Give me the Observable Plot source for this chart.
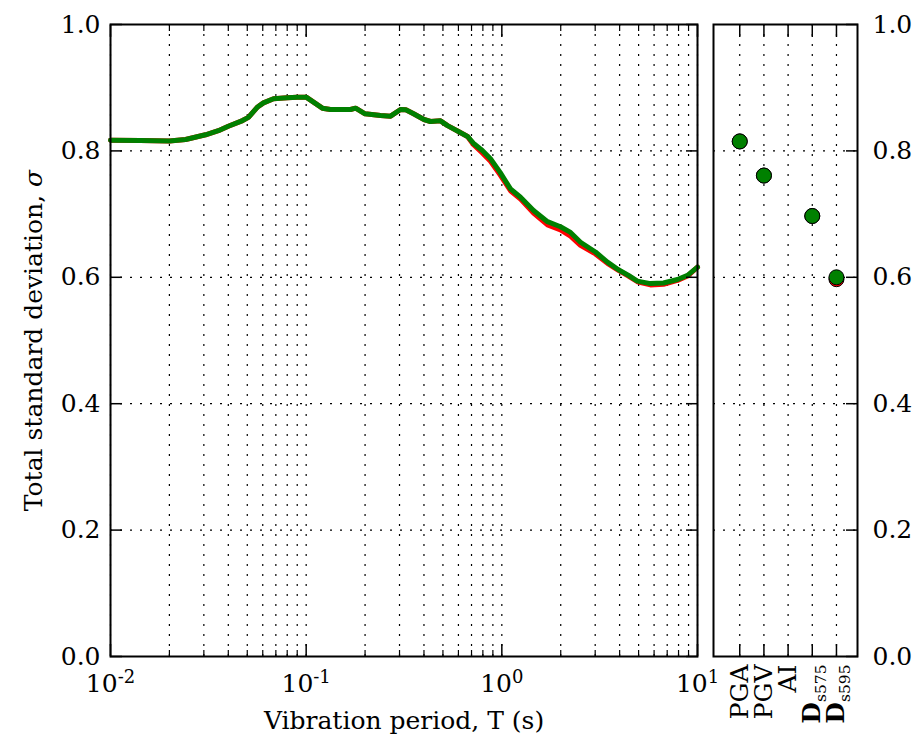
<!DOCTYPE html>
<html><head><meta charset="utf-8">
<script src="https://cdn.jsdelivr.net/npm/d3@7"></script>
<script src="https://cdn.jsdelivr.net/npm/@observablehq/plot@0.6"></script>
<style>
body{margin:0;background:#fff;}
#wrap{position:relative;width:920px;height:734px;font-family:"DejaVu Serif",serif;background:#fff;}
#left,#right{position:absolute;top:0;}
#left{left:0;}
#right{left:700px;}
</style></head><body><div id="wrap"><div id="left"></div><div id="right"></div></div>
<script>
// ---- data ----
const periods = [0.01, 0.0142, 0.02, 0.0242, 0.0306, 0.0356, 0.04, 0.0473, 0.0507, 0.0562,
  0.0605, 0.0681, 0.08, 0.09, 0.1, 0.121, 0.133, 0.1685, 0.179, 0.2,
  0.24, 0.27, 0.3036, 0.323, 0.354, 0.4, 0.432, 0.486, 0.528, 0.6,
  0.668, 0.715, 0.795, 0.875, 0.98, 1.107, 1.246, 1.452, 1.712, 1.994,
  2.244, 2.524, 3.01, 3.467, 3.945, 4.44, 4.93, 5.75, 6.7, 7.9,
  8.89, 10];
const sigmaGreen = [0.817, 0.8165, 0.8157, 0.818, 0.8255, 0.832, 0.839, 0.848, 0.853, 0.869,
  0.876, 0.8825, 0.884, 0.885, 0.885, 0.8676, 0.8655, 0.8655, 0.8676, 0.8587,
  0.856, 0.855, 0.8655, 0.865, 0.8587, 0.8497, 0.8465, 0.8476, 0.840, 0.8307,
  0.8228, 0.8122, 0.8006, 0.7875, 0.766, 0.740, 0.7267, 0.7057, 0.688, 0.680,
  0.671, 0.6555, 0.640, 0.624, 0.612, 0.603, 0.594, 0.590, 0.591, 0.5965,
  0.603, 0.616];
const sigmaRed = [0.817, 0.8165, 0.8157, 0.818, 0.8255, 0.832, 0.839, 0.848, 0.853, 0.869,
  0.876, 0.8825, 0.884, 0.885, 0.885, 0.8676, 0.8655, 0.8655, 0.8676, 0.8587,
  0.856, 0.855, 0.8655, 0.865, 0.8587, 0.8497, 0.8465, 0.8476, 0.840, 0.8307,
  0.8228, 0.8102, 0.7966, 0.7835, 0.762, 0.737, 0.7237, 0.7017, 0.683, 0.675,
  0.665, 0.6505, 0.637, 0.622, 0.611, 0.602, 0.593, 0.588, 0.589, 0.595,
  0.602, 0.616];
const imNames = ["PGA", "PGV", "AI", "D_s575", "D_s595"];
const imGreen = [0.815, 0.761, null, 0.697, 0.600];
const imRed   = [0.815, 0.761, null, 0.697, 0.597];
const yTicks = [0, 0.2, 0.4, 0.6, 0.8, 1.0];
const xMajor = [0.01, 0.1, 1, 10];
const xMajorLabels = ["10^-2", "10^-1", "10^0", "10^1"];
const xMinor = [0.01, 0.1, 1].flatMap(d => [2,3,4,5,6,7,8,9].map(k => +(k * d).toPrecision(3)));
const xAll = xMajor.concat(xMinor);

const FONT = "DejaVu Serif";
const FS = "25px";
const dotted = {stroke: "#000", strokeOpacity: 1, strokeWidth: 1.2, strokeDasharray: "2,8"};

// ---- left panel ----
const curve = periods.map((T, i) => ({T, g: sigmaGreen[i], r: sigmaRed[i]}));
const left = Plot.plot({
  width: 700, height: 734,
  marginLeft: 110, marginRight: 3, marginTop: 24, marginBottom: 78,
  style: {fontFamily: FONT, fontSize: FS, color: "#000", background: "transparent", overflow: "visible"},
  x: {type: "log", domain: [0.01, 10]},
  y: {domain: [0, 1]},
  marks: [
    Plot.gridX({ticks: xAll, ...dotted}),
    Plot.gridY({ticks: yTicks.slice(1, -1), ...dotted}),
    Plot.line(curve, {x: "T", y: "r", stroke: "#ff0000", strokeWidth: 5}),
    Plot.line(curve, {x: "T", y: "g", stroke: "#008000", strokeWidth: 5}),
    Plot.frame({stroke: "#000", strokeWidth: 2}),
    Plot.axisX({ticks: xMajor, anchor: "bottom", tickSize: -12, tickPadding: 30, strokeWidth: 1.5,
      tickFormat: d => xMajorLabels[xMajor.indexOf(d)], label: null}),
    Plot.axisX({ticks: xMinor, anchor: "bottom", tickSize: -6, fill: "none", strokeWidth: 1.2, label: null}),
    Plot.axisX({ticks: xMajor, anchor: "top", tickSize: -12, fill: "none", strokeWidth: 1.5, label: null}),
    Plot.axisX({ticks: xMinor, anchor: "top", tickSize: -6, fill: "none", strokeWidth: 1.2, label: null}),
    Plot.axisY({ticks: yTicks, anchor: "left", tickSize: -12, tickPadding: 22, strokeWidth: 1.5,
      tickFormat: d3.format(".1f"), label: null}),
    Plot.axisY({ticks: yTicks, anchor: "right", tickSize: -12, fill: "none", strokeWidth: 1.5, label: null}),
    Plot.text(["Vibration period, T (s)"], {frameAnchor: "bottom", dy: 64, lineAnchor: "middle", fontSize: 25}),
    Plot.text(["Total standard deviation, σ"], {frameAnchor: "left", dx: -77, rotate: -90, textAnchor: "middle", lineAnchor: "middle", fontSize: 25})
  ]
});
document.getElementById("left").appendChild(left);

// ---- right panel ----
const ims = imNames.map((name, i) => ({pos: i + 1, name, g: imGreen[i], r: imRed[i]}));
const pos = ims.map(d => d.pos);
const right = Plot.plot({
  width: 220, height: 734,
  marginLeft: 13, marginRight: 63, marginTop: 24, marginBottom: 78,
  style: {fontFamily: FONT, fontSize: FS, color: "#000", background: "transparent", overflow: "visible"},
  x: {domain: [-0.085, 5.87]},
  y: {domain: [0, 1]},
  marks: [
    Plot.gridX({ticks: pos, ...dotted}),
    Plot.gridY({ticks: yTicks.slice(1, -1), ...dotted}),
    Plot.dot(ims, {x: "pos", y: "r", r: 7.5, fill: "#ff0000", stroke: "#000", strokeWidth: 1}),
    Plot.dot(ims, {x: "pos", y: "g", r: 7.5, fill: "#008000", stroke: "#000", strokeWidth: 1}),
    Plot.frame({stroke: "#000", strokeWidth: 2}),
    Plot.axisX({ticks: pos, anchor: "bottom", tickSize: -12, tickPadding: 20, tickRotate: -90, strokeWidth: 1.5,
      tickFormat: p => imNames[p - 1], label: null}),
    Plot.axisX({ticks: pos, anchor: "top", tickSize: -12, fill: "none", strokeWidth: 1.5, label: null}),
    Plot.axisY({ticks: yTicks, anchor: "right", tickSize: -12, tickPadding: 27, strokeWidth: 1.5,
      tickFormat: d3.format(".1f"), label: null})
  ]
});
document.getElementById("right").appendChild(right);

// ---- rich text: superscripts, subscripts, italic sigma ----
d3.select(left).selectAll("text").each(function() {
  const t = d3.select(this);
  const s = t.text();
  if (s.includes("^")) {
    const [a, b] = s.split("^");
    t.text(a);
    t.append("tspan").attr("dy", "-0.5em").attr("font-size", "0.72em").text(b);
  } else if (s.endsWith("σ")) {
    t.text(s.slice(0, -1));
    t.append("tspan").attr("font-style", "italic").text("σ");
  }
});
d3.select(right).selectAll("text").each(function() {
  const t = d3.select(this);
  const s = t.text();
  if (s.includes("_")) {
    const [a, b] = s.split("_");
    t.text(a).attr("font-weight", "bold");
    t.append("tspan").attr("dy", "0.35em").attr("font-size", "0.62em").attr("font-weight", "normal").text(b);
  }
});
</script></body></html>
